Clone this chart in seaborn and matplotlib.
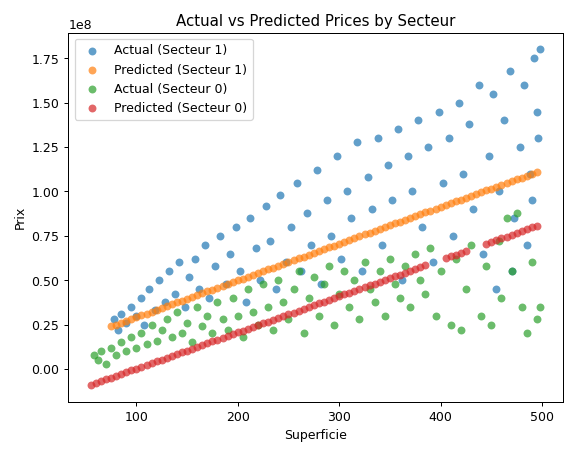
import matplotlib
matplotlib.use("Agg")
import matplotlib.pyplot as plt
import seaborn as sns
import numpy as np

# Actual Secteur 1 (x, y in millions)
a1_x = [78,82,85,90,95,100,105,108,112,118,122,128,132,138,142,148,152,158,162,168,172,178,182,188,192,198,202,208,212,218,222,228,232,238,242,248,252,258,262,268,272,278,282,288,292,298,302,308,312,318,322,328,332,338,342,348,352,358,362,368,372,378,382,388,392,398,402,408,412,418,422,428,432,438,442,448,452,458,462,468,472,478,482,488,492,495,498,496,485,470,455,490]
a1_y = [28,22,31,26,35,30,40,25,45,33,50,38,55,42,60,35,52,62,45,70,40,58,75,48,65,80,55,38,85,68,50,92,72,45,98,60,80,105,55,88,70,112,48,95,75,120,62,100,85,128,55,108,90,130,70,115,95,135,50,120,100,140,80,125,60,145,105,130,75,150,110,138,90,160,65,120,155,100,140,168,85,125,160,110,175,145,180,130,70,55,45,95]
# Predicted Secteur 1
p1_x = [75,85,95,105,115,125,135,145,155,165,175,185,195,205,215,225,235,245,255,265,275,285,295,305,315,325,335,345,355,365,375,385,395,405,415,425,435,445,455,465,475,485,495,
        80,90,100,110,120,130,140,150,160,170,180,190,200,210,220,230,240,250,260,270,280,290,300,310,320,330,340,350,360,370,380,390,400,410,420,430,440,450,460,470,480,490]
p1_y = [24.0,26.1,28.1,30.2,32.3,34.4,36.4,38.5,40.6,42.6,44.7,46.8,48.8,50.9,53.0,55.1,57.1,59.2,61.3,63.3,65.4,67.5,69.5,71.6,73.7,75.8,77.8,79.9,82.0,84.0,86.1,88.2,90.2,92.3,94.4,96.5,98.5,100.6,102.7,104.7,106.8,108.9,110.9,
        25.0,27.1,29.2,31.2,33.3,35.4,37.5,39.5,41.6,43.7,45.7,47.8,49.9,51.9,54.0,56.1,58.2,60.2,62.3,64.4,66.4,68.5,70.6,72.6,74.7,76.8,78.9,80.9,83.0,85.1,87.1,89.2,91.3,93.3,95.4,97.5,99.6,101.6,103.7,105.8,107.8,109.9]
# Actual Secteur 0
a0_x = [58,62,65,70,75,80,85,90,95,100,105,110,115,120,125,130,135,140,145,150,155,160,165,170,175,180,185,190,195,200,205,210,215,220,225,230,235,240,245,250,255,260,265,270,275,280,285,290,295,300,305,310,315,320,325,330,335,340,345,350,355,360,365,370,375,380,385,390,395,400,410,415,420,425,430,440,445,450,460,465,470,475,480,485,490,495,498,458]
a0_y = [8,5,10,3,12,8,15,10,18,12,20,14,25,16,22,28,18,32,20,26,15,35,24,30,20,38,28,22,40,30,18,45,32,25,48,35,22,50,38,28,45,55,20,40,52,30,48,58,25,42,55,35,50,28,60,45,38,55,30,62,48,40,58,35,65,50,42,68,30,55,25,62,22,45,70,30,58,25,40,85,55,88,35,20,60,28,35,72]
# Predicted Secteur 0
p0_x = [55,65,75,85,95,105,115,125,135,145,155,165,175,185,195,205,215,225,235,245,255,265,275,285,295,305,315,325,335,345,355,365,375,385,405,415,425,445,455,465,475,485,495,
        60,70,80,90,100,110,120,130,140,150,160,170,180,190,200,210,220,230,240,250,260,270,280,290,300,310,320,330,340,350,360,370,380,410,420,450,460,470,480,490]
p0_y = [-9.0,-7.0,-4.9,-2.9,-0.8,1.2,3.2,5.3,7.3,9.4,11.4,13.4,15.5,17.5,19.6,21.6,23.6,25.7,27.7,29.8,31.8,33.8,35.9,37.9,40.0,42.0,44.0,46.1,48.1,50.2,52.2,54.2,56.3,58.3,62.4,64.4,66.5,70.6,72.6,74.6,76.7,78.7,80.8,
        -8.0,-5.9,-3.9,-1.8,0.2,2.2,4.3,6.3,8.4,10.4,12.4,14.5,16.5,18.6,20.6,22.6,24.7,26.7,28.8,30.8,32.8,34.9,36.9,39.0,41.0,43.0,45.1,47.1,49.2,51.2,53.2,55.3,57.3,63.4,65.5,71.6,73.6,75.7,77.7,79.8]

M = 1e6
fig, ax = plt.subplots(figsize=(6.4, 5.06), dpi=90)
pal = sns.color_palette("tab10")
kw = dict(alpha=0.7, s=40, linewidth=0, ax=ax)
sns.scatterplot(x=a1_x, y=np.array(a1_y)*M, color=pal[0], label="Actual (Secteur 1)", **kw)
sns.scatterplot(x=p1_x, y=np.array(p1_y)*M, color=pal[1], label="Predicted (Secteur 1)", **kw)
sns.scatterplot(x=a0_x, y=np.array(a0_y)*M, color=pal[2], label="Actual (Secteur 0)", **kw)
sns.scatterplot(x=p0_x, y=np.array(p0_y)*M, color=pal[3], label="Predicted (Secteur 0)", **kw)
ax.set_title("Actual vs Predicted Prices by Secteur")
ax.set_xlabel("Superficie")
ax.set_ylabel("Prix")
ax.set_xticks([100,200,300,400,500])
ax.legend(loc="upper left")
fig.tight_layout()
fig.savefig("out.png")
